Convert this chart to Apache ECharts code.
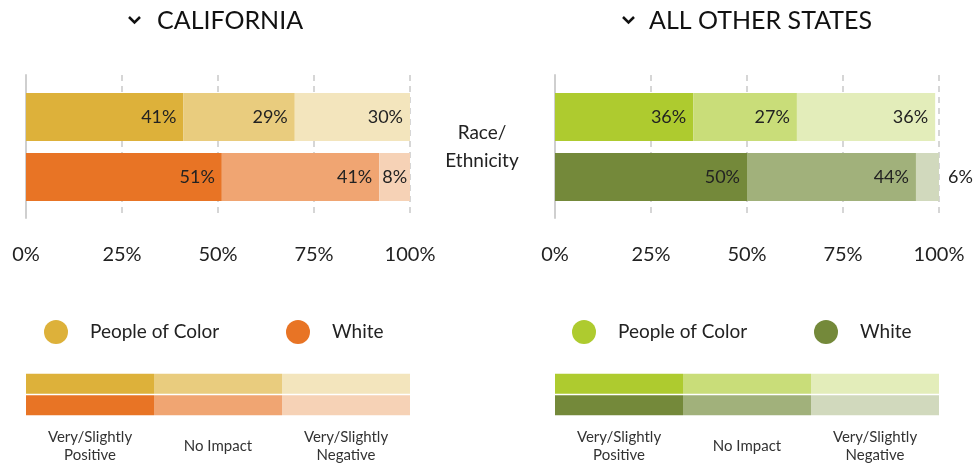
<!DOCTYPE html>
<html lang="en">
<head>
    <meta charset="UTF-8">
    <script src="https://cdn.jsdelivr.net/npm/echarts@6/dist/echarts.min.js"></script>
    <title>Race/Ethnicity impact</title>
    <style>
        html, body { margin: 0; padding: 0; background: #fff; }
        #chart { width: 979px; height: 467px; }
    </style>
</head>
<body>
<div id="chart"></div>
<script type="text/javascript">
    // data
    var categories = ['People of Color', 'White'];
    var responses = ['Very/Slightly Positive', 'No Impact', 'Very/Slightly Negative'];
    var caPositive = [41, 51];
    var caNoImpact = [29, 41];
    var caNegative = [30, 8];
    var otherPositive = [36, 50];
    var otherNoImpact = [27, 44];
    var otherNegative = [36, 6];
    var tickValues = [0, 25, 50, 75, 100];
    var keyLabels = ['Very/Slightly\nPositive', 'No Impact', 'Very/Slightly\nNegative'];
    var keyShares = [1, 1, 1];

    // colours per row: [positive, no impact, negative]
    var caColors = [['#DDB13A', '#E9CC7E', '#F3E5BD'], ['#E87425', '#F0A572', '#F6D2B6']];
    var otherColors = [['#AECB2F', '#C9DD79', '#E3EDBA'], ['#74893A', '#A1B17B', '#D1D9BD']];

    var FONT = 'Lato';
    var PLOT_W = 384;

    var option = {
        animation: false,
        grid: [], xAxis: [], yAxis: [], series: [], legend: [], title: [], graphic: []
    };

    function labelFor(v) {
        var px = v / 100 * PLOT_W;
        if (px < 28) return { position: 'right', distance: 9 };
        if (px < 45) return { position: 'inside' };
        return { position: 'insideRight', distance: 7 };
    }

    function addPanel(cfg) {
        var g = option.grid.length;
        var xi = option.xAxis.length;
        var yi = option.yAxis.length;

        option.grid.push({ left: cfg.left, width: PLOT_W, top: 87, height: 120 });   // bars
        option.grid.push({ left: cfg.left, width: PLOT_W, top: 75, height: 143 });   // frame
        option.grid.push({ left: cfg.left, width: PLOT_W, top: 373, height: 43 });   // key

        option.xAxis.push({ gridIndex: g, type: 'value', min: 0, max: 100, show: false });
        option.xAxis.push({
            gridIndex: g + 1, type: 'value',
            min: tickValues[0], max: tickValues[tickValues.length - 1],
            interval: tickValues[1] - tickValues[0],
            axisLine: { show: false }, axisTick: { show: false },
            splitLine: { show: true, lineStyle: { color: '#C9C9C9', width: 1.5, type: [6, 5] } },
            axisLabel: { formatter: '{value}%', fontSize: 20, color: '#222', fontFamily: FONT, margin: 27 }
        });
        option.xAxis.push({ gridIndex: g + 2, type: 'value', min: 0, max: 3, show: false, position: 'top' });
        option.xAxis.push({
            gridIndex: g + 2, type: 'category', position: 'bottom', data: keyLabels,
            axisLine: { show: false }, axisTick: { show: false }, splitLine: { show: false },
            axisLabel: { interval: 0, fontSize: 15, lineHeight: 18, color: '#333', fontFamily: FONT,
                         verticalAlign: 'middle', margin: 30 }
        });

        option.yAxis.push({ gridIndex: g, type: 'category', data: categories, inverse: true, show: false });
        option.yAxis.push({
            gridIndex: g + 1, type: 'value', min: 0, max: 1,
            axisLine: { show: true, onZero: false, lineStyle: { color: '#CFCFCF', width: 2 } },
            axisTick: { show: false }, axisLabel: { show: false }, splitLine: { show: false }
        });
        option.yAxis.push({ gridIndex: g + 2, type: 'category', data: categories, inverse: true, show: false });

        for (var i = 0; i < responses.length; i++) {
            option.series.push({
                type: 'bar', name: responses[i], stack: 'bars' + g,
                xAxisIndex: xi, yAxisIndex: yi, barCategoryGap: '20%',
                label: { show: true, formatter: '{c}%', fontSize: 18, color: '#222', fontFamily: FONT },
                data: cfg.values[i].map(function (v, r) {
                    return { value: v, itemStyle: { color: cfg.colors[r][i] }, label: labelFor(v) };
                })
            });
            option.series.push({
                type: 'bar', name: responses[i], stack: 'key' + g, silent: true,
                xAxisIndex: xi + 2, yAxisIndex: yi + 2, barWidth: 20,
                data: categories.map(function (c, r) {
                    return { value: keyShares[i], itemStyle: { color: cfg.colors[r][i] } };
                })
            });
        }

        categories.forEach(function (c, r) {
            option.legend.push({
                left: cfg.legendLeft[r], top: 320, padding: 0, selectedMode: false,
                icon: 'circle', itemWidth: 24, itemHeight: 24,
                data: [{ name: c, itemStyle: { color: cfg.colors[r][0] } }],
                textStyle: { fontSize: 19, color: '#222', fontFamily: FONT, padding: [0, 0, 0, 17] }
            });
        });

        option.title.push({
            text: cfg.title, left: cfg.titleLeft, top: 8, padding: 0,
            textStyle: { fontSize: 25, fontWeight: 'normal', color: '#111', fontFamily: FONT }
        });
        option.graphic.push({
            type: 'polyline', silent: true,
            shape: { points: [[cfg.chevron, 17], [cfg.chevron + 5.5, 22.5], [cfg.chevron + 11, 17]] },
            style: { stroke: '#111', lineWidth: 2.5, fill: null }
        });
    }

    addPanel({
        title: 'CALIFORNIA', titleLeft: 157, chevron: 129, left: 26,
        values: [caPositive, caNoImpact, caNegative], colors: caColors, legendLeft: [44, 286]
    });
    addPanel({
        title: 'ALL OTHER STATES', titleLeft: 649, chevron: 623, left: 555,
        values: [otherPositive, otherNoImpact, otherNegative], colors: otherColors, legendLeft: [572, 814]
    });

    // series only used so the legends have names to point at
    categories.forEach(function (c) {
        option.series.push({ type: 'line', name: c, data: [], xAxisIndex: 1, yAxisIndex: 1 });
    });

    option.graphic.push({
        type: 'text', x: 482, y: 147, silent: true,
        style: { text: 'Race/\nEthnicity', align: 'center', verticalAlign: 'middle',
                 fontSize: 19, lineHeight: 28, fontFamily: FONT, fill: '#222' }
    });

    var myChart = echarts.init(document.getElementById('chart'));
    myChart.setOption(option);
    window.onresize = myChart.resize;
</script>
</body>
</html>
